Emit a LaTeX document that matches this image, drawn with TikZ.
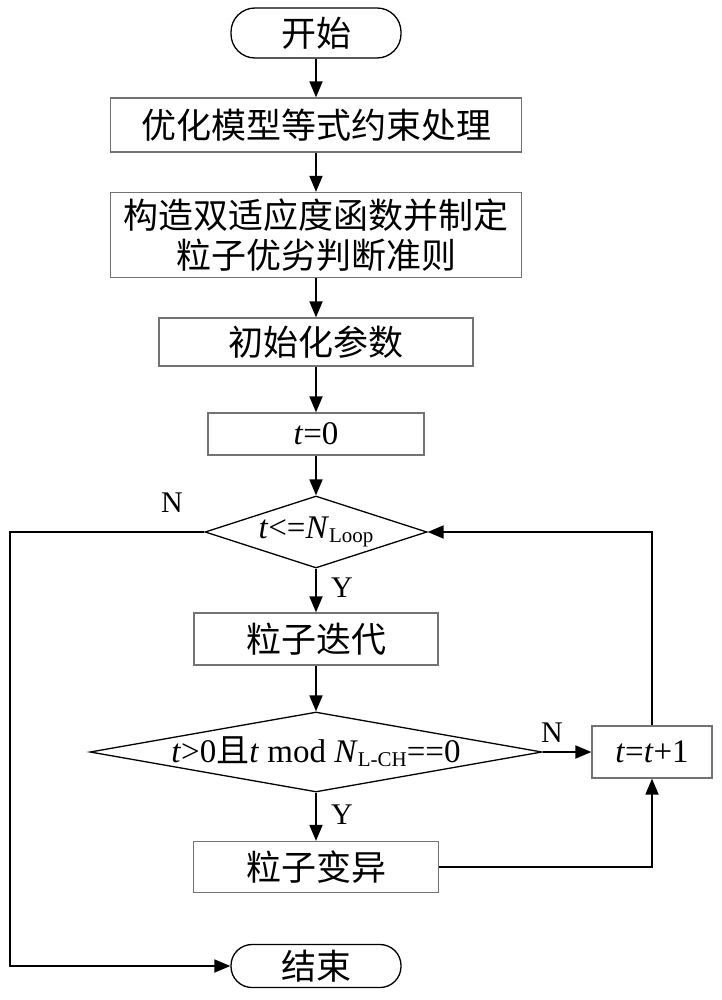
\documentclass[tikz,border=0pt]{standalone}
\usepackage{fontspec}
\setmainfont{Liberation Serif}
\newfontfamily\cjk{Noto Sans CJK SC}
\usetikzlibrary{shapes.geometric,arrows.meta}
\tikzset{
  every node/.style={font=\fontsize{33}{40}\selectfont},
  procbox/.style={draw=black!55, line width=1.3pt, rectangle, inner sep=0pt, align=center},
  termbox/.style={draw=black, line width=1.3pt, rectangle, rounded corners=24pt, inner sep=0pt},
  decbox/.style={draw=black, line width=1.3pt, diamond, inner sep=0pt},
  conn/.style={draw=black, line width=1.8pt, -{Triangle[length=16pt,width=13pt]}},
  yn/.style={font=\fontsize{30}{30}\selectfont, inner sep=0pt}
}
\newcommand{\zh}[1]{{\cjk\fontsize{35}{40}\selectfont #1}}
\newcommand{\zhs}[1]{{\cjk #1}}
\newcommand{\subtxt}[1]{\raisebox{-0.25ex}{\fontsize{21}{22}\selectfont #1}}
\begin{document}
\begin{tikzpicture}[x=1pt,y=-1pt]
\useasboundingbox (0,0) rectangle (721,1000);
\node[termbox, minimum width=170pt, minimum height=50pt] (start) at (316,33) {\zh{开始}};
\node[procbox, minimum width=411pt, minimum height=54pt] (b1) at (316,125) {\zh{优化模型等式约束处理}};
\node[procbox, minimum width=411pt, minimum height=85pt] (b2) at (316,235) {\zh{构造双适应度函数并制定}\\\zh{粒子优劣判断准则}};
\node[procbox, minimum width=314pt, minimum height=48pt] (b3) at (316,342) {\zh{初始化参数}};
\node[procbox, minimum width=216pt, minimum height=42pt] (b4) at (316,434) {\textit{t}=0};
\node[decbox, minimum width=222pt, minimum height=72pt, label={center:\textit{t}<=\textit{N}\subtxt{Loop}}] (d1) at (316,532) {};
\node[procbox, minimum width=244pt, minimum height=52pt] (b5) at (316,639) {\zh{粒子迭代}};
\node[decbox, minimum width=452pt, minimum height=80pt, label={center:\textit{t}>0\zhs{且}\textit{t} mod \textit{N}\subtxt{L-CH}==0}] (d2) at (316,752) {};
\node[procbox, minimum width=120pt, minimum height=52pt] (b6) at (652,752) {\textit{t}=\textit{t}+1};
\node[procbox, minimum width=245pt, minimum height=51pt] (b7) at (316,867) {\zh{粒子变异}};
\node[termbox, minimum width=170pt, minimum height=43pt, rounded corners=21pt] (end) at (316,966) {\zh{结束}};
\coordinate (lft) at (10,532);
\draw[conn] (start) -- (b1);
\draw[conn] (b1) -- (b2);
\draw[conn] (b2) -- (b3);
\draw[conn] (b3) -- (b4);
\draw[conn] (b4.south) -- (d1.north);
\draw[conn] (d1.south) -- (b5.north);
\draw[conn] (b5.south) -- (d2.north);
\draw[conn] (d2.south) -- (b7.north);
\draw[conn] (d2.east) -- (b6.west);
\draw[conn] (b6.north) |- (d1.east);
\draw[conn] (b7.east) -| (b6.south);
\draw[conn] (d1.west) -- (lft) |- (end.west);
\node[yn] (n1) at (172,503) {N};
\node[yn] (y1) at (342,588) {Y};
\node[yn] (n2) at (552,733) {N};
\node[yn] (y2) at (342,815) {Y};
\end{tikzpicture}
\end{document}
